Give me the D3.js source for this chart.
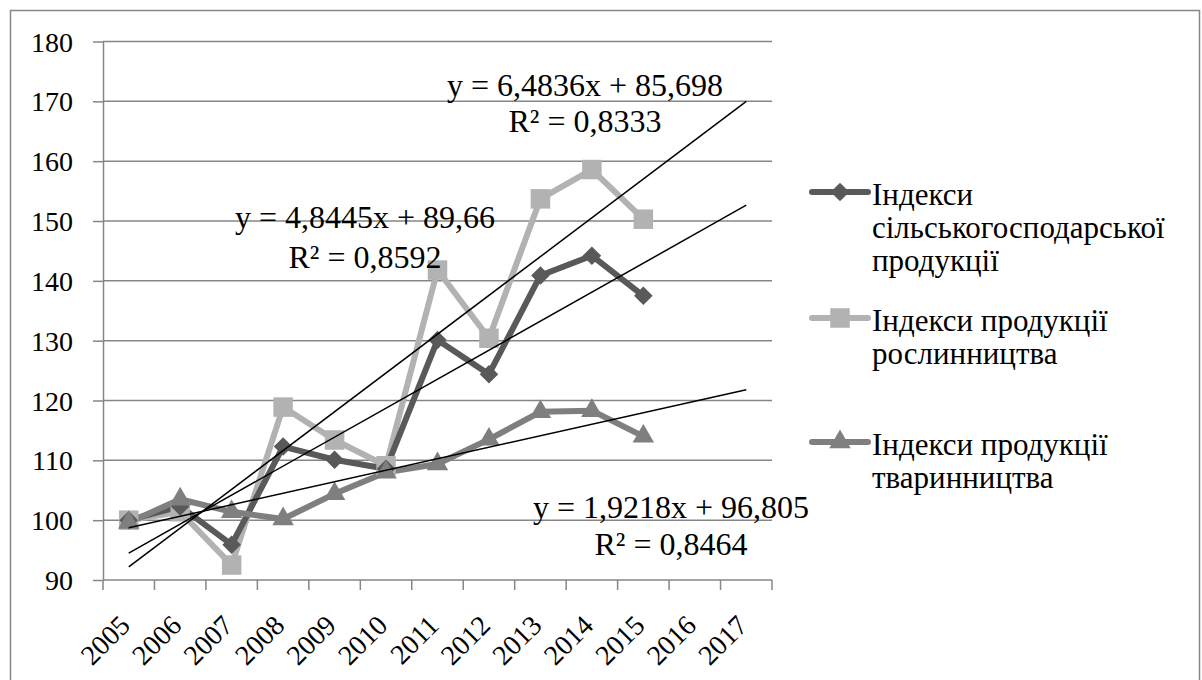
<!DOCTYPE html>
<html>
<head>
<meta charset="utf-8">
<title>Індекси продукції</title>
<script src="https://d3js.org/d3.v7.min.js"></script>
<style>
body {
	margin: 0;
	background-color: white;
	font-family: "Times New Roman", "Liberation Serif", serif;
}
svg {
	display: block;
}
.grid line {
	stroke: #868686;
	stroke-width: 1.5;
}
.axis path, .axis line {
	stroke: #868686;
	stroke-width: 1.5;
}
.series {
	fill: none;
	stroke-width: 6;
	stroke-linejoin: round;
}
.trend {
	fill: none;
	stroke: black;
	stroke-width: 1.5;
}
.eq {
	text-anchor: middle;
}
</style>
<script>
/* globals d3, window */
(function() {
"use strict";

const years = ["2005", "2006", "2007", "2008", "2009", "2010", "2011",
	"2012", "2013", "2014", "2015", "2016", "2017"];
const yTicks = [90, 100, 110, 120, 130, 140, 150, 160, 170, 180];

const agri = [100, 102.3, 95.9, 112.3, 110.1, 108.6, 130.1, 124.4, 140.9, 144.2, 137.5];
const crops = [100, 101.4, 92.5, 118.9, 113.4, 109.1, 141.8, 130.4, 153.7, 158.6, 150.3];
const livestock = [99.6, 103.5, 101.4, 100.2, 104.4, 108.0, 109.4, 113.5, 118.1, 118.3, 114.0];

const seriesNames = [
	["Індекси", "сільськогосподарської", "продукції"],
	["Індекси продукції", "рослинництва"],
	["Індекси продукції", "тваринництва"],
];
const seriesColors = ["#595959", "#b2b2b2", "#7f7f7f"];
const seriesSymbols = ["diamond", "square", "triangle"];

// trendlines as printed on the chart: slope, intercept, R²
const trendSlope = [4.8445, 6.4836, 1.9218];
const trendIntercept = [89.66, 85.698, 96.805];
const trendR2 = ["0,8592", "0,8333", "0,8464"];
const trendEq = ["y = 4,8445x + 89,66", "y = 6,4836x + 85,698", "y = 1,9218x + 96,805"];

const FONT = "'Liberation Serif', 'Times New Roman', serif";

function symbolPath(kind)
{
	if (kind === "diamond")
		return d3.symbol(d3.symbolDiamond2, 220)();
	if (kind === "square")
		return d3.symbol(d3.symbolSquare, 380)();
	return d3.symbol(d3.symbolTriangle, 200)();
}

function main()
{
	const W = 1202, H = 680;
	const margin = {top: 41.5, left: 103};
	const width = 772 - margin.left;
	const height = 580 - margin.top;

	const svg = d3.select("body").append("svg")
		.attr("width", W)
		.attr("height", H)
		.attr("font-family", FONT);

	svg.append("rect")
		.attr("x", 10.5).attr("y", 10.5)
		.attr("width", 1189).attr("height", 700)
		.attr("fill", "white")
		.attr("stroke", "#868686")
		.attr("stroke-width", 1.5);

	const g = svg.append("g")
		.attr("transform", "translate(" + margin.left + "," + margin.top + ")");

	const x = d3.scaleBand(years, [0, width]);
	const xc = i => x(years[i]) + x.bandwidth() / 2;
	// numeric x for trendlines: 1 = first category
	const xn = d3.scaleLinear([1, years.length], [xc(0), xc(years.length - 1)]);
	const y = d3.scaleLinear([90, 180], [height, 0]);

	g.append("g")
		.attr("class", "grid")
		.selectAll("line")
		.data(yTicks.slice(1))
		.join("line")
		.attr("x1", 0).attr("x2", width)
		.attr("y1", d => y(d)).attr("y2", d => y(d));

	g.append("g")
		.attr("class", "axis")
		.call(d3.axisLeft(y).tickValues(yTicks).tickSize(10).tickSizeOuter(0).tickPadding(20))
		.attr("font-family", FONT)
		.attr("font-size", 28)
		.selectAll("text")
		.attr("fill", "black")
		.attr("dy", "0.34em");

	// category boundary ticks on the x axis
	const xAxis = g.append("g")
		.attr("class", "axis")
		.attr("transform", "translate(0," + height + ")");
	xAxis.append("line")
		.attr("x1", 0).attr("x2", width);
	xAxis.selectAll("line.tk")
		.data(d3.range(years.length + 1))
		.join("line")
		.attr("class", "tk")
		.attr("x1", i => i * x.step()).attr("x2", i => i * x.step())
		.attr("y1", 0).attr("y2", 10);
	xAxis.selectAll("text")
		.data(years)
		.join("text")
		.attr("font-family", FONT)
		.attr("font-size", 28)
		.attr("text-anchor", "end")
		.attr("transform", (d, i) => "translate(" + (xc(i) + 3) + ",47) rotate(-45)")
		.text(d => d);

	const series = [agri, crops, livestock];
	const line = d3.line().x((d, i) => xc(i)).y(d => y(d));

	// crops first, then agri over it, livestock on top
	[1, 0, 2].forEach(s => {
		g.append("path")
			.attr("class", "series")
			.attr("stroke", seriesColors[s])
			.attr("d", line(series[s]));
	});
	[1, 0, 2].forEach(s => {
		g.append("g")
			.selectAll("path")
			.data(series[s])
			.join("path")
			.attr("d", symbolPath(seriesSymbols[s]))
			.attr("fill", seriesColors[s])
			.attr("transform", (d, i) => "translate(" + xc(i) + "," + y(d) + ")");
	});

	trendSlope.forEach((k, s) => {
		const ends = [1, years.length];
		g.append("line")
			.attr("class", "trend")
			.attr("x1", xn(ends[0])).attr("y1", y(k * ends[0] + trendIntercept[s]))
			.attr("x2", xn(ends[1])).attr("y2", y(k * ends[1] + trendIntercept[s]));
	});

	// equation labels (absolute positions in the svg)
	const eqPos = [[365, 228, 268], [585, 96, 132], [671, 518, 555]];
	trendEq.forEach((t, s) => {
		svg.append("text").attr("class", "eq")
			.attr("font-size", 32)
			.attr("x", eqPos[s][0]).attr("y", eqPos[s][1]).text(t);
		svg.append("text").attr("class", "eq")
			.attr("font-size", 32)
			.attr("x", eqPos[s][0]).attr("y", eqPos[s][2]).text("R² = " + trendR2[s]);
	});

	const legend = svg.append("g").attr("class", "legend");
	const legendY = [192, 318, 442];
	seriesNames.forEach((lines, s) => {
		const row = legend.append("g")
			.attr("transform", "translate(812," + legendY[s] + ")");
		row.append("line")
			.attr("x1", 0).attr("x2", 56)
			.attr("stroke", seriesColors[s])
			.attr("stroke-width", 6)
			.attr("stroke-linecap", "round");
		row.append("path")
			.attr("d", symbolPath(seriesSymbols[s]))
			.attr("fill", seriesColors[s])
			.attr("transform", "translate(28,0)");
		row.selectAll("text")
			.data(lines)
			.join("text")
			.attr("font-size", 31)
			.attr("x", 60)
			.attr("y", (d, i) => 13 + i * 33)
			.text(d => d);
	});
}
window.addEventListener("DOMContentLoaded", main);
})();
</script>
</head>
<body>
</body>
</html>
